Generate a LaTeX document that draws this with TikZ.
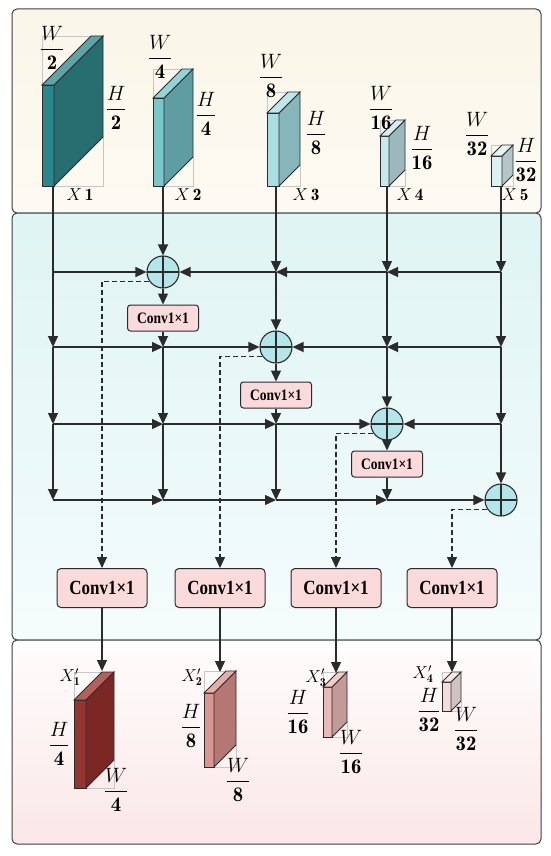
\documentclass[tikz,border=0pt]{standalone}
\usepackage{amsmath,amssymb}
\usepackage{fontspec}
\newfontfamily\convfont{Liberation Serif}
\usepackage{tikz}
\usetikzlibrary{arrows.meta}

\definecolor{linec}{HTML}{2B2B2B}
\definecolor{panelc}{HTML}{3C3F41}
\definecolor{topa}{HTML}{FAF6E8}
\definecolor{topb}{HTML}{FCFAF3}
\definecolor{mida}{HTML}{DFF4F4}
\definecolor{midb}{HTML}{F5FCFC}
\definecolor{bota}{HTML}{FFFDFD}
\definecolor{botb}{HTML}{FBE7E7}
\definecolor{addc}{HTML}{B3E5E9}
\definecolor{convc}{HTML}{FADADA}

\definecolor{pfront1}{HTML}{2A878C}\definecolor{pside1}{HTML}{286D70}\definecolor{ptop1}{HTML}{5BA5A9}
\definecolor{pfront2}{HTML}{79C6CB}\definecolor{pside2}{HTML}{5E9EA2}\definecolor{ptop2}{HTML}{94D4D8}
\definecolor{pfront3}{HTML}{A9DEE3}\definecolor{pside3}{HTML}{86B6BA}\definecolor{ptop3}{HTML}{BDE7EA}
\definecolor{pfront4}{HTML}{C6E9EC}\definecolor{pside4}{HTML}{9CB8BC}\definecolor{ptop4}{HTML}{D2EEF0}
\definecolor{pfront5}{HTML}{DDF1F3}\definecolor{pside5}{HTML}{B5C6C8}\definecolor{ptop5}{HTML}{E6F4F5}
\definecolor{qfront1}{HTML}{953530}\definecolor{qside1}{HTML}{7B2824}\definecolor{qtop1}{HTML}{B35F5A}
\definecolor{qfront2}{HTML}{DA9690}\definecolor{qside2}{HTML}{B47774}\definecolor{qtop2}{HTML}{E8ADA8}
\definecolor{qfront3}{HTML}{EAB8B6}\definecolor{qside3}{HTML}{C29B99}\definecolor{qtop3}{HTML}{F0CCCB}
\definecolor{qfront4}{HTML}{F5DCDC}\definecolor{qside4}{HTML}{D0C2C2}\definecolor{qtop4}{HTML}{F8E6E6}

% front-left x, bottom y, width, height, depth, front, side, top
\newcommand{\fmap}[8]{
  \draw[guide] (#1,{#2-#4}) |- ({#1+#5},{#2-#4-#5});
  \draw[guide] ({#1+#3},#2) -| ({#1+#3+#5},{#2-#5});
  \draw[fill=#6,draw=linec,line width=0.9pt] (#1,#2) rectangle ({#1+#3},{#2-#4});
  \draw[fill=#7,draw=linec,line width=0.9pt] ({#1+#3},#2) -- ({#1+#3+#5},{#2-#5})
    -- ({#1+#3+#5},{#2-#4-#5}) -- ({#1+#3},{#2-#4}) -- cycle;
  \draw[fill=#8,draw=linec,line width=0.9pt] (#1,{#2-#4}) -- ({#1+#5},{#2-#4-#5})
    -- ({#1+#3+#5},{#2-#4-#5}) -- ({#1+#3},{#2-#4}) -- cycle;
}
\newcommand{\convtext}{\scalebox{1}[1.18]{Conv1×1}}

\begin{document}
\begin{tikzpicture}[x=1pt,y=-1pt,
  >={Triangle[length=11pt,width=10pt]},
  link/.style={draw=linec,line width=1.3pt,->},
  skip/.style={draw=linec,line width=1.1pt,dash pattern=on 5pt off 3pt,->},
  adder/.style={circle,draw=linec,line width=1.1pt,fill=addc,minimum size=32pt,inner sep=0pt,
    path picture={\draw[linec,line width=2.8pt] (path picture bounding box.north) -- (path picture bounding box.south)
      (path picture bounding box.west) -- (path picture bounding box.east);}},
  conv/.style={draw=linec,line width=1pt,fill=convc,rounded corners=3pt,minimum width=71pt,minimum height=26pt,
    inner sep=0pt,font=\convfont\bfseries\fontsize{13.5}{15}\selectfont},
  bigconv/.style={conv,minimum width=90pt,minimum height=39pt,rounded corners=4pt,
    font=\convfont\bfseries\fontsize{17}{19}\selectfont},
  panel/.style={draw=panelc,line width=1pt,rounded corners=5pt},
  dim/.style={font=\fontsize{20.74}{22}\selectfont,inner sep=0pt},
  tag/.style={font=\fontsize{17.28}{19}\selectfont,inner sep=0pt},
  guide/.style={draw=gray!45,line width=0.6pt}]

\useasboundingbox (0,0) rectangle (550,856);
\draw[panel,top color=topa,bottom color=topb] (12,9) rectangle (541,213);
\draw[panel,top color=mida,bottom color=midb] (12,213) rectangle (541,640);
\draw[panel,top color=bota,bottom color=botb] (12,640) rectangle (541,844);

\fmap{42}{186}{12}{101}{49}{pfront1}{pside1}{ptop1}
\fmap{153}{186}{11}{88}{29}{pfront2}{pside2}{ptop2}
\fmap{267}{186}{12}{73}{21}{pfront3}{pside3}{ptop3}
\fmap{380}{186}{9}{50}{16}{pfront4}{pside4}{ptop4}
\fmap{491}{186}{11}{30}{11}{pfront5}{pside5}{ptop5}

\node[dim] (w1) at (52,48) {$\dfrac{W}{\mathbf{2}}$};
\node[dim] (h1) at (116,108) {$\dfrac{H}{\mathbf{2}}$};
\node[tag] (n1) at (80,195) {$X\,\mathbf{1}$};
\node[dim] (w2) at (160,57) {$\dfrac{W}{\mathbf{4}}$};
\node[dim] (h2) at (206,114) {$\dfrac{H}{\mathbf{4}}$};
\node[tag] (n2) at (188,195) {$X\,\mathbf{2}$};
\node[dim] (w3) at (271,76) {$\dfrac{W}{\mathbf{8}}$};
\node[dim] (h3) at (316,133) {$\dfrac{H}{\mathbf{8}}$};
\node[tag] (n3) at (306,195) {$X\,\mathbf{3}$};
\node[dim] (w4) at (381,108) {$\dfrac{W}{\mathbf{16}}$};
\node[dim] (h4) at (422,148) {$\dfrac{H}{\mathbf{16}}$};
\node[tag] (n4) at (410,195) {$X\,\mathbf{4}$};
\node[dim] (w5) at (477,134) {$\dfrac{W}{\mathbf{32}}$};
\node[dim] (h5) at (526,160) {$\dfrac{H}{\mathbf{32}}$};
\node[tag] (n5) at (515,195) {$X\,\mathbf{5}$};

\fmap{74}{788}{12}{88}{28}{qfront1}{qside1}{qtop1}
\fmap{204}{767}{10}{74}{22}{qfront2}{qside2}{qtop2}
\fmap{323}{737}{9}{50}{15}{qfront3}{qside3}{qtop3}
\fmap{442}{711}{9}{29}{10}{qfront4}{qside4}{qtop4}

\node[tag] (m1) at (70,677) {$X'_{\mathbf{1}}$};
\node[dim] (v1) at (59,744) {$\dfrac{H}{\mathbf{4}}$};
\node[dim] (u1) at (116,790) {$\dfrac{W}{\mathbf{4}}$};
\node[tag] (m2) at (192,677) {$X'_{\mathbf{2}}$};
\node[dim] (v2) at (191,726) {$\dfrac{H}{\mathbf{8}}$};
\node[dim] (u2) at (238,780) {$\dfrac{W}{\mathbf{8}}$};
\node[tag] (m3) at (316,678) {$X'_{\mathbf{3}}$};
\node[dim] (v3) at (298,712) {$\dfrac{H}{\mathbf{16}}$};
\node[dim] (u3) at (351,752) {$\dfrac{W}{\mathbf{16}}$};
\node[tag] (m4) at (423,674) {$X'_{\mathbf{4}}$};
\node[dim] (v4) at (429,710) {$\dfrac{H}{\mathbf{32}}$};
\node[dim] (u4) at (466,729) {$\dfrac{W}{\mathbf{32}}$};

\coordinate (x1) at (53,186);
\coordinate (x2) at (163,186);
\coordinate (x3) at (276,186);
\coordinate (x4) at (387,186);
\coordinate (x5) at (501,186);
\foreach \r/\yy in {1/272,2/347,3/424,4/500}
  \foreach \c/\xx in {1/53,2/163,3/276,4/387,5/501}
    \coordinate (j\r\c) at (\xx,\yy);

\node[adder] (a1) at (j12) {};
\node[adder] (a2) at (j23) {};
\node[adder] (a3) at (j34) {};
\node[adder] (a4) at (j45) {};
\node[conv] (s1) at (163,318) {\convtext};
\node[conv] (s2) at (276,395) {\convtext};
\node[conv] (s3) at (387,464) {\convtext};
\node[bigconv] (b1) at (102,588) {\convtext};
\node[bigconv] (b2) at (220,588) {\convtext};
\node[bigconv] (b3) at (336,588) {\convtext};
\node[bigconv] (b4) at (452,588) {\convtext};
\coordinate (y1) at (102,671);
\coordinate (y2) at (220,672);
\coordinate (y3) at (336,673);
\coordinate (y4) at (452,672);

\draw[link,-] (x1) -- (j11);
\foreach \p/\q in {j11/j21,j21/j31,j31/j41,x2/a1,a1/s1,s1/j22,j22/j32,j32/j42,
    x3/j13,j13/a2,a2/s2,s2/j33,j33/j43,x4/j14,j14/j24,j24/a3,a3/s3,s3/j44,
    x5/j15,j15/j25,j25/j35,j35/a4,j11/a1,j15/j14,j14/j13,j13/a1,
    j21/j22,j22/a2,j25/j24,j24/a2,j31/j32,j32/j33,j33/a3,j35/a3,
    j41/j42,j42/j43,j43/j44,j44/a4,b1/y1,b2/y2,b3/y3,b4/y4}
  \draw[link] (\p) -- (\q);
\foreach \i in {1,...,4}
  \draw[skip] (a\i.215) -| (b\i.north);
\end{tikzpicture}
\end{document}
